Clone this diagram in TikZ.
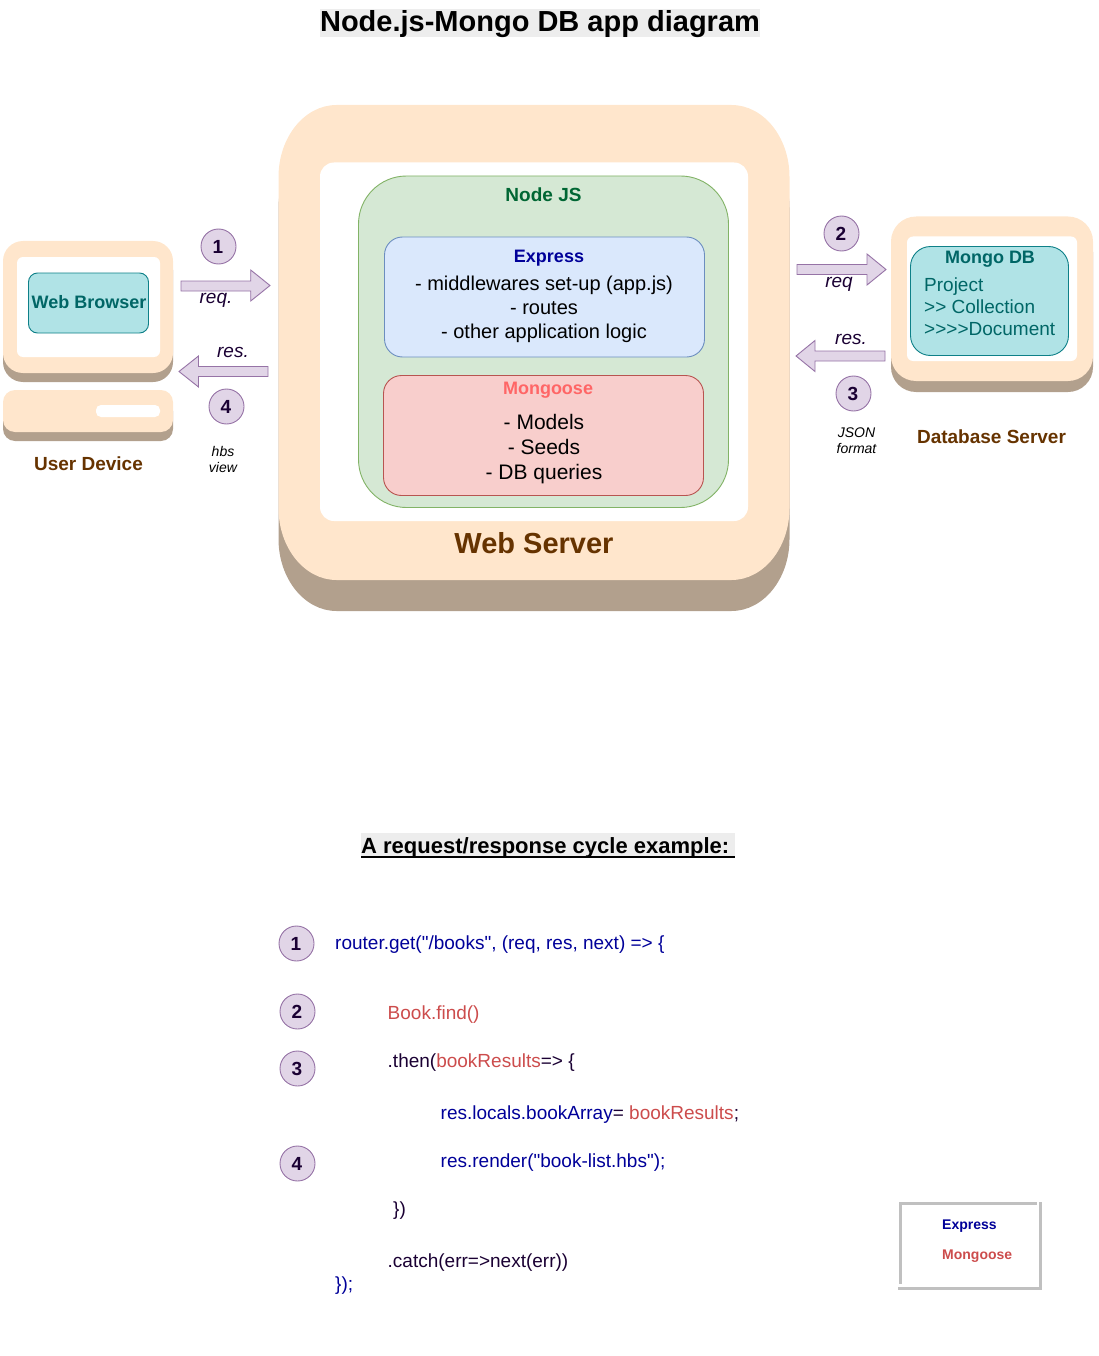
\documentclass[tikz,border=0pt]{standalone}
\usepackage{fontspec}
\setmainfont{Liberation Sans}[Ligatures=TeXOff]
\definecolor{peach}{HTML}{FFE6CC}
\definecolor{shade}{HTML}{B2A08D}
\definecolor{lilac}{HTML}{E1D5E7}
\definecolor{lilacline}{HTML}{9673A6}
\definecolor{ink}{HTML}{1A0033}
\definecolor{teal}{HTML}{006666}
\definecolor{aqua}{HTML}{B0E3E6}
\definecolor{aqualine}{HTML}{0E8088}
\definecolor{brown}{HTML}{663300}
\definecolor{navy}{HTML}{000099}
\definecolor{codered}{HTML}{CC4C4C}
\definecolor{greenfill}{HTML}{D5E8D4}
\definecolor{greenline}{HTML}{82B366}
\definecolor{bluefill}{HTML}{DAE8FC}
\definecolor{blueline}{HTML}{6C8EBF}
\definecolor{redfill}{HTML}{F8CECC}
\definecolor{redline}{HTML}{B85450}
\definecolor{legendgrey}{HTML}{C0C0C0}
\definecolor{titlebg}{HTML}{EDEDED}
\tikzset{
  x=1pt,y=-1pt,
  arrowshape/.style={fill=lilac,draw=lilacline,line width=0.9pt,line join=miter},
  badge/.style={circle,fill=lilac,draw=lilacline,line width=0.9pt,minimum size=35pt,inner sep=0pt,text=ink,font=\fontsize{19}{19}\selectfont\bfseries,execute at begin node=\kern-1pt},
  lbl/.style={anchor=base,inner sep=0pt,align=center},
  code/.style={anchor=base west,inner sep=0pt,font=\fontsize{19}{19}\selectfont},
  itl/.style={lbl,text=ink,font=\fontsize{19}{19}\selectfont\itshape},
  small/.style={lbl,text=black,font=\fontsize{14}{16}\selectfont\itshape},
  body/.style={lbl,font=\fontsize{20}{24}\selectfont},
  bodym/.style={lbl,font=\fontsize{21}{24}\selectfont},
}
\newcommand{\rbox}[6]{\draw[#1,rounded corners=#6] (#2,#3) rectangle (#4,#5);}
% rounded box with elliptical corners: style, x1,y1,x2,y2,rx,ry
\newcommand{\ellbox}[7]{\draw[#1]
  ({#2+#6},#3) -- ({#4-#6},#3)
  .. controls ({#4-0.448*#6},#3) and (#4,{#3+0.448*#7}) .. (#4,{#3+#7})
  -- (#4,{#5-#7})
  .. controls (#4,{#5-0.448*#7}) and ({#4-0.448*#6},#5) .. ({#4-#6},#5)
  -- ({#2+#6},#5)
  .. controls ({#2+0.448*#6},#5) and (#2,{#5-0.448*#7}) .. (#2,{#5-#7})
  -- (#2,{#3+#7})
  .. controls (#2,{#3+0.448*#7}) and ({#2+0.448*#6},#3) .. ({#2+#6},#3) -- cycle;}
\begin{document}
\begin{tikzpicture}
\useasboundingbox (0,0) rectangle (1098,1356);
% title
\fill[titlebg] (320,9) rectangle (760,37);
\node[lbl,font=\fontsize{29}{29}\selectfont\bfseries] (title) at (540,31.5) {Node.js-Mongo DB app diagram};
% web server
\ellbox{fill=shade,draw=none}{278.5}{136}{789.5}{611}{58}{72}
\ellbox{fill=peach,draw=none}{278.5}{105}{789.5}{580}{58}{72}
\rbox{fill=white,draw=none}{320}{162.5}{748}{521}{14}
\rbox{fill=greenfill,draw=greenline,line width=0.9pt}{358.5}{176}{728.5}{507.5}{48}
\rbox{fill=bluefill,draw=blueline,line width=0.9pt}{384.5}{237}{704.5}{357}{18}
\rbox{fill=redfill,draw=redline,line width=0.9pt}{383.5}{375.5}{703.5}{495.5}{18}
\node[lbl,text={rgb,255:red,0;green,102;blue,51},font=\fontsize{19}{19}\selectfont\bfseries] (nodejs) at (543.5,201.5) {Node JS};
\node[lbl,text=navy,font=\fontsize{18}{18}\selectfont\bfseries] (express) at (549,262) {Express};
\node[body] (e1) at (544,290.5) {- middlewares set-up (app.js)};
\node[body] (e2) at (544,314.5) {- routes};
\node[body] (e3) at (544,338.5) {- other application logic};
\node[lbl,text={rgb,255:red,255;green,102;blue,102},font=\fontsize{18}{18}\selectfont\bfseries] (mongoose) at (548,394) {Mongoose};
\node[bodym] (m1) at (544,429) {- Models};
\node[bodym] (m2) at (544,454) {- Seeds};
\node[bodym] (m3) at (544,479) {- DB queries};
\node[lbl,text=brown,font=\fontsize{29}{30}\selectfont\bfseries] (webserver) at (534,553) {Web Server};
% user device
\rbox{fill=shade,draw=none}{3}{250}{173}{382}{20}
\rbox{fill=peach,draw=none}{3}{241}{173}{373}{20}
\rbox{fill=white,draw=none}{17}{257}{160}{357}{6}
\rbox{fill=aqua,draw=aqualine,line width=0.9pt}{28.5}{273}{148.5}{333}{9}
\node[lbl,text=teal,font=\fontsize{18}{18}\selectfont\bfseries] (browser) at (89,308) {Web Browser};
\rbox{fill=shade,draw=none}{3}{399}{173}{441}{12}
\rbox{fill=peach,draw=none}{3}{390}{173}{432}{12}
\rbox{fill=white,draw=none}{96}{405}{160}{417}{5}
\node[lbl,text=brown,font=\fontsize{19}{19}\selectfont\bfseries] (userdevice) at (88.5,470) {User Device};
% database server
\rbox{fill=shade,draw=none}{891}{227}{1093}{392}{25}
\rbox{fill=peach,draw=none}{891}{216.5}{1093}{381}{25}
\rbox{fill=white,draw=none}{907}{236.5}{1077}{361}{6}
\rbox{fill=aqua,draw=aqualine,line width=0.9pt}{910.5}{246.5}{1068.5}{355.5}{20}
\node[lbl,text=teal,font=\fontsize{18}{18}\selectfont\bfseries] (mongodb) at (990,263) {Mongo DB};
\node[anchor=base west,inner sep=0pt,text=teal,font=\fontsize{19}{19}\selectfont] (d1) at (924,291) {Project};
\node[anchor=base west,inner sep=0pt,text=teal,font=\fontsize{19}{19}\selectfont] (d2) at (924,313) {>> Collection};
\node[anchor=base west,inner sep=0pt,text=teal,font=\fontsize{19}{19}\selectfont] (d3) at (924,335) {>>>>Document};
\node[lbl,text=brown,font=\fontsize{19}{19}\selectfont\bfseries] (dbserver) at (991.5,443) {Database Server};
% arrows
\draw[arrowshape] (181,281)--(250.7,281)--(250.7,270)--(270,285.5)--(250.7,301)--(250.7,291)--(181,291)--cycle;
\draw[arrowshape] (268,366.5)--(198.5,366.5)--(198.5,356)--(179,371.5)--(198.5,387)--(198.5,376.5)--(268,376.5)--cycle;
\draw[arrowshape] (797,264.5)--(867,264.5)--(867,254)--(886,269.5)--(867,285)--(867,274.5)--(797,274.5)--cycle;
\draw[arrowshape] (885,351)--(815,351)--(815,340.5)--(796,356)--(815,371.5)--(815,361)--(885,361)--cycle;
\node[itl] (req1) at (216,303) {req.};
\node[itl] (res4) at (233,357) {res.};
\node[itl] (req2) at (839,287) {req};
\node[itl] (res3) at (851,344) {res.};
\node[small] (hbs) at (223,456) {hbs};
\node[small] (view) at (223,472) {view};
\node[small] (json) at (856.5,437) {JSON};
\node[small] (format) at (856.5,453) {format};
\node[badge] (b1) at (218.5,246.5) {1};
\node[badge] (b4) at (226.5,406.5) {4};
\node[badge] (b2) at (841.5,233.5) {2};
\node[badge] (b3) at (853.5,393.5) {3};
% heading
\fill[titlebg] (361,833) rectangle (735,858);
\fill[black] (361,855.8) rectangle (735,858);
\node[anchor=base west,inner sep=0pt,font=\fontsize{22}{22}\selectfont\bfseries] (heading) at (361,853.5) {A request/response cycle example:};
% code
\node[badge] (c1) at (296.5,943.5) {1};
\node[badge] (c2) at (297.5,1011.5) {2};
\node[badge] (c3) at (297.5,1068.5) {3};
\node[badge] (c4) at (297.5,1163.5) {4};
\node[code,text=navy] (l1) at (335,949) {router.get("/books", (req, res, next) => \{};
\node[code,text=codered] (l2) at (387.5,1019) {Book.find()};
\node[code,text=ink] (l3) at (387.5,1067) {.then(\textcolor{codered}{bookResults}=> \{};
\node[code,text=navy] (l4) at (440.5,1119) {res.locals.bookArray\textcolor{ink}{=} \textcolor{codered}{bookResults}\textcolor{ink}{;}};
\node[code,text=navy] (l5) at (440.5,1167) {res.render("book-list.hbs");};
\node[code,text=ink] (l6) at (393,1215) {\})};
\node[code,text=ink] (l7) at (387.5,1267) {.catch(err=>next(err))};
\node[code,text=navy] (l8) at (335,1290) {\});};
% legend
\draw[legendgrey,line width=3pt] (899,1203.5)--(1037,1203.5);
\draw[legendgrey,line width=3pt] (1040.5,1202)--(1040.5,1290);
\draw[legendgrey,line width=3pt] (898,1288.5)--(1042,1288.5);
\draw[legendgrey,line width=3pt] (900,1203)--(900,1284);
\node[anchor=base west,inner sep=0pt,text=navy,font=\fontsize{14}{14}\selectfont\bfseries] (lg1) at (942,1229) {Express};
\node[anchor=base west,inner sep=0pt,text=codered,font=\fontsize{14}{14}\selectfont\bfseries] (lg2) at (942,1259) {Mongoose};
\end{tikzpicture}
\end{document}
